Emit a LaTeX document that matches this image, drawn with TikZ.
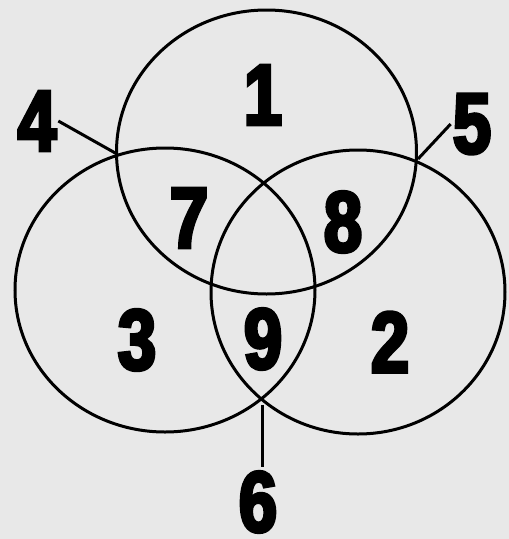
\documentclass[tikz,border=0pt]{standalone}
\usepackage{fontspec}
\newfontfamily\numfont[FakeBold=4,FakeStretch=0.8]{Liberation Sans}
\usetikzlibrary{shapes.geometric}
\tikzset{
  ring/.style={draw=black, line width=3pt, ellipse, inner sep=0pt, minimum width=#1, minimum height=284pt},
  num/.style={font=\numfont\bfseries\fontsize{86}{86}\selectfont, inner sep=2pt, text=black},
  lead/.style={draw=black, line width=3pt}
}
\begin{document}
\begin{tikzpicture}[x=1pt,y=-1pt]
\fill[black!9] (0,0) rectangle (509,539);
\useasboundingbox (0,0) rectangle (509,539);
% circles
\node[ring=300pt] (top) at (266.5,152) {};
\node[ring=300pt] (left) at (165,290) {};
\node[ring=294pt] (right) at (358,292) {};
% intersection points
\coordinate (x14) at (117,154);
\coordinate (x15) at (418,159);
\coordinate (x6) at (262,398);
% labels
\node[num] (n1) at (263,95) {1};
\node[num] (n4) at (37,121) {4};
\node[num] (n5) at (472,124) {5};
\node[num] (n7) at (189,218) {7};
\node[num] (n8) at (343,222) {8};
\node[num] (n3) at (137,340) {3};
\node[num] (n9) at (263,339) {9};
\node[num] (n2) at (390,342) {2};
\node[num, inner sep=0pt] (n6) at (258,502) {6};
% leaders
\draw[lead] (n4.east) -- (x14);
\draw[lead] (n5.west) -- (x15);
\draw[lead, shorten <=7pt, shorten >=4pt] (x6) -- (x6 |- n6.north);
\end{tikzpicture}
\end{document}
